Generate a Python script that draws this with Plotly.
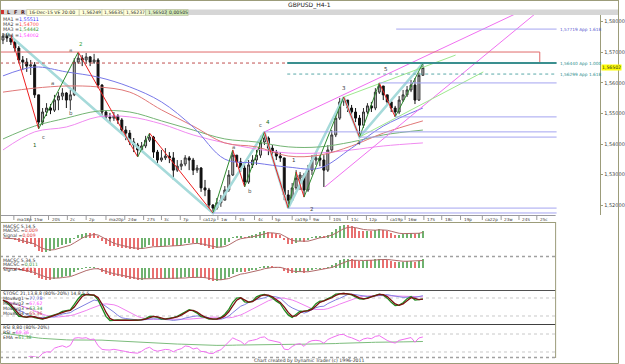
import numpy as np
import pandas as pd
import plotly.graph_objects as go

W, H = 625, 364

# ---------------- price data (H4 bars) ----------------
first_open = 1.5740
closes = [1.5753, 1.5747, 1.5734, 1.5714, 1.5675, 1.5668, 1.5655, 1.5659, 1.5561, 1.5472,
          1.5505, 1.5518, 1.5511, 1.5544, 1.5557, 1.5567, 1.5544, 1.5561, 1.5668, 1.5681,
          1.5675, 1.5685, 1.5668, 1.5675, 1.5593, 1.5505, 1.5489, 1.5485, 1.5492, 1.5479,
          1.5446, 1.5436, 1.5407, 1.5397, 1.5381, 1.5394, 1.5413, 1.5423, 1.5374, 1.5348,
          1.5355, 1.5361, 1.5355, 1.5315, 1.5328, 1.5335, 1.5355, 1.5348, 1.5315, 1.5322,
          1.5257, 1.5250, 1.5201, 1.5191, 1.5208, 1.5217, 1.5250, 1.5299, 1.5364, 1.5342,
          1.5322, 1.5276, 1.5332, 1.5348, 1.5364, 1.5407, 1.5420, 1.5387, 1.5374, 1.5361,
          1.5355, 1.5234, 1.5217, 1.5257, 1.5289, 1.5299, 1.5250, 1.5315, 1.5348, 1.5355,
          1.5348, 1.5315, 1.5381, 1.5430, 1.5485, 1.5538, 1.5544, 1.5518, 1.5505, 1.5485,
          1.5462, 1.5505, 1.5525, 1.5518, 1.5570, 1.5590, 1.5561, 1.5538, 1.5518, 1.5505,
          1.5544, 1.5561, 1.5577, 1.5593, 1.5544, 1.5625, 1.56502]
highs = [1.5763, 1.5763, 1.5757, 1.5740, 1.5721, 1.5688, 1.5681, 1.5675, 1.5668, 1.5561,
         1.5518, 1.5534, 1.5531, 1.5561, 1.5570, 1.5583, 1.5570, 1.5577, 1.5681, 1.5701,
         1.5691, 1.5698, 1.5688, 1.5695, 1.5681, 1.5596, 1.5511, 1.5502, 1.5505, 1.5498,
         1.5485, 1.5459, 1.5446, 1.5420, 1.5404, 1.5407, 1.5427, 1.5436, 1.5427, 1.5381,
         1.5381, 1.5387, 1.5374, 1.5374, 1.5348, 1.5348, 1.5364, 1.5361, 1.5355, 1.5332,
         1.5325, 1.5283, 1.5257, 1.5204, 1.5224, 1.5234, 1.5263, 1.5315, 1.5381, 1.5364,
         1.5355, 1.5332, 1.5348, 1.5364, 1.5381, 1.5427, 1.5440, 1.5425, 1.5397, 1.5381,
         1.5374, 1.5355, 1.5250, 1.5273, 1.5315, 1.5309, 1.5305, 1.5332, 1.5364, 1.5374,
         1.5364, 1.5364, 1.5397, 1.5446, 1.5505, 1.5551, 1.5554, 1.5544, 1.5528, 1.5518,
         1.5495, 1.5518, 1.5534, 1.5538, 1.5583, 1.5600, 1.5590, 1.5561, 1.5544, 1.5525,
         1.5557, 1.5577, 1.5590, 1.5610, 1.5616, 1.5634, 1.56635]
lows = [1.5727, 1.5734, 1.5724, 1.5701, 1.5665, 1.5642, 1.5636, 1.5626, 1.5551, 1.5450,
        1.5462, 1.5492, 1.5498, 1.5505, 1.5511, 1.5544, 1.5518, 1.5511, 1.5557, 1.5662,
        1.5655, 1.5662, 1.5655, 1.5662, 1.5583, 1.5495, 1.5479, 1.5472, 1.5476, 1.5466,
        1.5436, 1.5413, 1.5397, 1.5374, 1.5358, 1.5381, 1.5387, 1.5407, 1.5355, 1.5338,
        1.5342, 1.5348, 1.5338, 1.5283, 1.5309, 1.5315, 1.5328, 1.5315, 1.5299, 1.5306,
        1.5244, 1.5230, 1.5185, 1.5175, 1.5185, 1.5195, 1.5217, 1.5244, 1.5296, 1.5325,
        1.5309, 1.5260, 1.5270, 1.5322, 1.5332, 1.5355, 1.5397, 1.5364, 1.5355, 1.5348,
        1.5342, 1.5217, 1.5191, 1.5217, 1.5250, 1.5250, 1.5227, 1.5244, 1.5299, 1.5332,
        1.5328, 1.5260, 1.5309, 1.5374, 1.5423, 1.5479, 1.5525, 1.5505, 1.5489, 1.5472,
        1.5423, 1.5453, 1.5498, 1.5505, 1.5511, 1.5564, 1.5544, 1.5525, 1.5505, 1.5489,
        1.5498, 1.5538, 1.5554, 1.5570, 1.5531, 1.5541, 1.56237]
opens = [first_open] + closes[:-1]
idx = list(range(len(closes)))

# moving averages read at sample bars
ma_idx = [0, 8, 16, 24, 32, 40, 48, 56, 64, 72, 80, 88, 96, 106]
ma1 = [1.5623, 1.5652, 1.5636, 1.5619, 1.5587, 1.5538, 1.5456, 1.5351, 1.5338, 1.5325, 1.5322, 1.5387, 1.5459, 1.5518]
ma2 = [1.5570, 1.5583, 1.5590, 1.5587, 1.5570, 1.5512, 1.5459, 1.5404, 1.5391, 1.5361, 1.5364, 1.5394, 1.5436, 1.5476]
ma3 = [1.5417, 1.5459, 1.5485, 1.5508, 1.5505, 1.5476, 1.5446, 1.5417, 1.5407, 1.5391, 1.5391, 1.5407, 1.5430, 1.5446]
ma4 = [1.5381, 1.5440, 1.5456, 1.5489, 1.5489, 1.5466, 1.5430, 1.5404, 1.5384, 1.5371, 1.5371, 1.5381, 1.5394, 1.5404]
ma_legend = ["1,55511", "1,54700", "1,54442", "1,54002"]

# zigzags
minor_zz_idx = [2, 9, 19, 34, 37, 53, 58, 61, 66, 72, 74, 76, 86, 90, 95, 99, 106]
minor_zz_px = [1.5757, 1.5450, 1.5701, 1.5358, 1.5436, 1.5175, 1.5381, 1.5260, 1.5440, 1.5191,
               1.5309, 1.5227, 1.5554, 1.5423, 1.5600, 1.5489, 1.5664]
major_zz_idx = [1, 53, 66, 72, 86, 90, 106]
major_zz_px = [1.5763, 1.5175, 1.5440, 1.5191, 1.5554, 1.5423, 1.5664]

# trend lines (start idx, start price, end idx, end price)
pink_lines = [(66, 1.5440, 129.25, 1.5825), (81.25, 1.5260, 134.25, 1.5825)]
lgreen_lines = [(86, 1.5554, 114.25, 1.5691), (90, 1.5423, 121.25, 1.5636)]

# horizontal levels (price, start idx)
purple_levels = [(1.5776, 99.25), (1.5600, 95), (1.5489, 99), (1.5440, 66), (1.5423, 90),
                 (1.5191, 72), (1.5175, 53)]
box_top, box_bottom = 1.5701, 1.5665
teal_dotted = 1.5629
level_end = 139.75
level_labels = [("1,57719 App 1.618", 1.5776, "#5a5ad0"), ("1,56440 App 1.000", 1.5665, "#2f8f8f"),
                ("1,56299 App 1.618", 1.5629, "#2f8f8f")]

wave_labels = [("1", 8.0, 1.5397, "#206020"), ("c", 10.25, 1.5423, "#606060"), ("a", 12.5, 1.5600, "#606060"),
               ("b", 17.25, 1.5502, "#606060"), ("a", 17.0, 1.5708, "#808080"), ("2", 19.75, 1.5727, "#30a030"),
               ("a", 58.25, 1.5392, "#606060"), ("b", 62.25, 1.5247, "#606060"), ("c", 65.0, 1.5463, "#606060"),
               ("4", 66.8, 1.5473, "#207020"), ("1", 73.5, 1.5348, "#404040"), ("2", 78.0, 1.5188, "#404040"),
               ("3", 86.0, 1.5583, "#303030"), ("4", 89.75, 1.5404, "#303030"), ("5", 96.75, 1.5646, "#303030")]

price_ticks = [1.52, 1.53, 1.54, 1.55, 1.56, 1.57, 1.58]
price_tick_text = ["1,52000", "1,53000", "1,54000", "1,55000", "1,56000", "1,57000", "1,58000"]
last_price_text = "1,56502"

date_pos = [2.75, 7.0, 11.5, 16.25, 21.0, 26.0, 30.75, 35.5, 40.0, 44.75, 49.75, 54.25, 58.75, 63.5,
            68.0, 73.0, 77.5, 82.5, 87.0, 91.75, 97.0, 101.5, 106.25, 110.75, 115.5, 121.0, 125.75,
            130.25, 134.75]
date_text = ["ma18p", "15w", "20S", "2c", "2p", "ma20p", "24w", "27S", "3c", "7p", "ca12p", "1w", "3S", "4c",
             "5p", "ca19p", "9w", "10S", "11c", "12p", "ca19p", "16w", "17S", "18c", "19p", "ca22p", "23w",
             "24S", "25c"]

header_fields = ["16-Dec-15 VE 20:00", "1,56249", "1,56635", "1,56237", "1,56502", "0,00505"]

# ---------------- indicators (computed from closes) ----------------
c = pd.Series(closes)
hi = pd.Series(highs)
lo = pd.Series(lows)


def ema(s, n):
    return s.ewm(span=n, adjust=False).mean()


macd1 = ema(c, 5) - ema(c, 14)
sig1 = ema(macd1, 5)
macd2 = ema(c, 5) - ema(c, 34)
sig2 = ema(macd2, 5)


def stoch(n):
    hh = hi.rolling(n, min_periods=1).max()
    ll = lo.rolling(n, min_periods=1).min()
    return 100 * (c - ll) / (hh - ll)


st_green = stoch(13).rolling(3, min_periods=1).mean()
st_red = st_green.rolling(2, min_periods=1).mean()
st_blue = stoch(21).rolling(6, min_periods=1).mean()
st_pink = st_blue.rolling(8, min_periods=1).mean()

d = c.diff().fillna(0)
ag = d.clip(lower=0).ewm(alpha=1 / 8, adjust=False).mean()
al = (-d.clip(upper=0)).ewm(alpha=1 / 8, adjust=False).mean()
rsi = 100 - 100 / (1 + ag / al.replace(0, np.nan))
rsi_ema_start = 83.0
alpha = 2 / 81
rsi_ema = []
prev = rsi_ema_start
for v in rsi:
    if not np.isnan(v):
        prev = prev + alpha * (v - prev)
    rsi_ema.append(prev)

# ---------------- figure ----------------
OLIVE = "#9c9c7a"
FONT = "DejaVu Sans"


def pyd(y0, y1):
    return [1 - y1 / H, 1 - y0 / H]


fig = go.Figure()

# major zigzag (thick cyan)
fig.add_trace(go.Scatter(x=major_zz_idx, y=major_zz_px, mode="lines",
                         line=dict(color="#a6dada", width=2.5), hoverinfo="skip"))

# moving averages
for vals, col in [(ma4, "#f08af0"), (ma3, "#74b474"), (ma2, "#e07878"), (ma1, "#7878e8")]:
    fig.add_trace(go.Scatter(x=ma_idx, y=vals, mode="lines",
                             line=dict(color=col, width=1, shape="spline", smoothing=1.0), hoverinfo="skip"))

# trend lines
for (x0, y0, x1, y1) in pink_lines:
    fig.add_trace(go.Scatter(x=[x0, x1], y=[y0, y1], mode="lines", line=dict(color="#f070f0", width=1),
                             hoverinfo="skip"))
for (x0, y0, x1, y1) in lgreen_lines:
    fig.add_trace(go.Scatter(x=[x0, x1], y=[y0, y1], mode="lines", line=dict(color="#9ee88e", width=1),
                             hoverinfo="skip"))

# candles
fig.add_trace(go.Candlestick(x=idx, open=opens, high=highs, low=lows, close=closes,
                             increasing=dict(fillcolor="#c4c4c4", line=dict(color="#303030", width=1)),
                             decreasing=dict(fillcolor="#111111", line=dict(color="#111111", width=1)),
                             whiskerwidth=0, hoverinfo="skip", xaxis="x", yaxis="y"))

# minor zigzag
for k in range(len(minor_zz_idx) - 1):
    up = minor_zz_px[k + 1] > minor_zz_px[k]
    fig.add_trace(go.Scatter(x=minor_zz_idx[k:k + 2], y=minor_zz_px[k:k + 2], mode="lines",
                             line=dict(color="#2e8b2e" if up else "#ee2020", width=1), hoverinfo="skip"))

# MACD panels
for (m, s, xa, ya) in [(macd1, sig1, "x2", "y2"), (macd2, sig2, "x3", "y3")]:
    cols = ["#6fb26f" if (k > 0 and m[k] >= m[k - 1]) else "#e87070" for k in range(len(m))]
    fig.add_trace(go.Bar(x=idx, y=m, width=0.3, marker=dict(color=cols, line=dict(width=0)),
                         xaxis=xa, yaxis=ya, hoverinfo="skip"))
    fig.add_trace(go.Scatter(x=idx, y=s, mode="lines", line=dict(color="#b06a6a", width=1),
                             xaxis=xa, yaxis=ya, hoverinfo="skip"))

# stochastics
for ser, col, wd in [(st_pink, "#f080f0", 1), (st_blue, "#8080e0", 1), (st_green, "#1e8a1e", 1.3),
                     (st_red, "#7a1010", 1.3)]:
    fig.add_trace(go.Scatter(x=idx, y=ser, mode="lines", line=dict(color=col, width=wd),
                             xaxis="x4", yaxis="y4", hoverinfo="skip"))

# RSI
fig.add_trace(go.Scatter(x=idx, y=rsi_ema, mode="lines", line=dict(color="#7cbc7c", width=1),
                         xaxis="x5", yaxis="y5", hoverinfo="skip"))
fig.add_trace(go.Scatter(x=idx, y=rsi, mode="lines", line=dict(color="#f070f0", width=1),
                         xaxis="x5", yaxis="y5", hoverinfo="skip"))


def sym_range(vals, zero_px, top_px, bot_px):
    vmax = max(max(v) for v in vals)
    vmin = min(min(v) for v in vals)
    s = max(vmax / (zero_px - top_px - 1.5), -vmin / (bot_px - zero_px - 1.5))
    return [-s * (bot_px - zero_px), s * (zero_px - top_px)]


r1 = sym_range([macd1, sig1], 238, 223, 256)
r2 = sym_range([macd2, sig2], 268, 257, 290)

hidden = dict(visible=False, fixedrange=True)
fig.update_layout(
    width=W, height=H, margin=dict(l=0, r=0, t=0, b=0), autosize=False,
    paper_bgcolor="white", plot_bgcolor="white", showlegend=False, bargap=0,
    font=dict(family=FONT, size=5, color="#303030"),
    xaxis=dict(domain=[0, 606 / W], range=[-0.75, 150.75], rangeslider=dict(visible=False), **hidden),
    yaxis=dict(domain=pyd(15, 215), range=[1.51684, 1.58220], side="right", showgrid=False, zeroline=False,
               showline=True, linecolor=OLIVE, linewidth=1, ticks="outside", ticklen=2, tickcolor=OLIVE,
               tickvals=price_ticks, ticktext=price_tick_text, tickfont=dict(size=5, color="#404040"),
               fixedrange=True),
    xaxis2=dict(domain=[0, 561 / W], range=[-0.75, 139.5], anchor="y2", **hidden),
    yaxis2=dict(domain=pyd(223, 256), range=r1, anchor="x2", **hidden),
    xaxis3=dict(domain=[0, 561 / W], range=[-0.75, 139.5], anchor="y3", **hidden),
    yaxis3=dict(domain=pyd(257, 290), range=r2, anchor="x3", **hidden),
    xaxis4=dict(domain=[0, 561 / W], range=[-0.75, 139.5], anchor="y4", **hidden),
    yaxis4=dict(domain=pyd(291, 324), range=[-6.7, 103.3], anchor="x4", **hidden),
    xaxis5=dict(domain=[0, 561 / W], range=[-0.75, 139.5], anchor="y5", **hidden),
    yaxis5=dict(domain=pyd(325, 357), range=[3.3, 110], anchor="x5", **hidden),
)

shapes = []
ann = []


def pline(x0, y0, x1, y1, color, width=1, dash="solid"):
    shapes.append(dict(type="line", xref="paper", yref="paper", x0=x0 / W, x1=x1 / W,
                       y0=1 - y0 / H, y1=1 - y1 / H, line=dict(color=color, width=width, dash=dash)))


def prect(x0, y0, x1, y1, fill, line=None, width=1):
    shapes.append(dict(type="rect", xref="paper", yref="paper", x0=x0 / W, x1=x1 / W,
                       y0=1 - y1 / H, y1=1 - y0 / H, fillcolor=fill,
                       line=dict(color=line or fill, width=width if line else 0), layer="below"))


def ptext(x, y, text, size=5, color="#303030", anchor="left", bg=None):
    ann.append(dict(xref="paper", yref="paper", x=x / W, y=1 - y / H, text=text, showarrow=False,
                    xanchor=anchor, yanchor="middle", font=dict(size=size, color=color, family=FONT),
                    bgcolor=bg, borderpad=0))


# header
prect(0, 9.5, W, 15, "#d6d6d6")
prect(0.5, 10, 4, 14, "#d03030")
ptext(6, 12.3, "<b>L</b>", 5, "#502020")
ptext(13, 12.3, "<b>F</b>", 5, "#502020")
ptext(20, 12.3, "<b>R</b>", 5, "#502020")
field_x = [27, 80, 103, 125, 147, 168, 190]
field_bg = ["#ffffdc", "#ffffdc", "#ffffdc", "#ffffdc", "#dff0c8", "#cfe8b4"]
for k, t in enumerate(header_fields):
    prect(field_x[k], 9.5, field_x[k + 1], 15.5, field_bg[k], "#b0b090", 0.5)
    ptext(field_x[k] + 1.5, 12.5, t, 4.6, "#303030")
ptext(312, 4.8, "GBPUSD_H4-1", 6, "#202020", "center")

# main panel horizontal levels
shapes.append(dict(type="line", xref="x", yref="y", x0=-0.75, x1=135.5, y0=box_top, y1=box_top,
                   line=dict(color="#e06a6a", width=1)))
shapes.append(dict(type="line", xref="x", yref="y", x0=135.5, x1=135.5, y0=box_bottom, y1=box_top,
                   line=dict(color="#e06a6a", width=1)))
shapes.append(dict(type="line", xref="x", yref="y", x0=-0.75, x1=71.75, y0=box_bottom, y1=box_bottom,
                   line=dict(color="#c05050", width=1, dash="dot")))
shapes.append(dict(type="line", xref="x", yref="y", x0=71.75, x1=level_end, y0=box_bottom, y1=box_bottom,
                   line=dict(color="#3a8f8f", width=2)))
shapes.append(dict(type="line", xref="x", yref="y", x0=71.75, x1=level_end, y0=teal_dotted, y1=teal_dotted,
                   line=dict(color="#5aa8a8", width=1, dash="dot")))
for (p, x0) in purple_levels:
    shapes.append(dict(type="line", xref="x", yref="y", x0=x0, x1=level_end, y0=p, y1=p,
                       line=dict(color="#a4a4f0", width=1)))
for (t, p, col) in level_labels:
    ann.append(dict(xref="x", yref="y", x=level_end + 0.3, y=p, text=t, showarrow=False, xanchor="left",
                    yanchor="middle", font=dict(size=4.3, color=col, family=FONT)))
ann.append(dict(xref="paper", yref="y", x=607 / W, y=closes[-1], text=last_price_text, showarrow=False,
                xanchor="left", yanchor="middle", bgcolor="#ffff00", borderpad=0,
                font=dict(size=4.6, color="#303030", family=FONT)))

for (t, xi, p, col) in wave_labels:
    ann.append(dict(xref="x", yref="y", x=xi, y=p, text=t, showarrow=False, xanchor="center",
                    yanchor="middle", font=dict(size=5.5, color=col, family=FONT)))

# MA legend
ma_cols = ["#3535ff", "#ff4545", "#3a9a3a", "#ff45ff"]
for k in range(4):
    ptext(2, 19 + 5.4 * k, "MA%d =<span style='color:%s'>%s</span>" % (k + 1, ma_cols[k], ma_legend[k]),
          4.8, "#404040")

# date axis
pline(0, 215.5, 561, 215.5, "#9a9aa0", 1)
for pos, t in zip(date_pos, date_text):
    shapes.append(dict(type="line", xref="x2", yref="paper", x0=pos, x1=pos, y0=1 - 216 / H, y1=1 - 220 / H,
                       line=dict(color="#707070", width=0.7)))
    ann.append(dict(xref="x2", yref="paper", x=pos, y=1 - 219.5 / H, text=t, showarrow=False, xanchor="left",
                    xshift=1, yanchor="middle", font=dict(size=4.2, color="#404040", family=FONT)))

# indicator panel frames
pline(0, 222.5, 561, 222.5, OLIVE, 1)
pline(0, 256.5, 561, 256.5, "#a0a0a0", 1.5, "dot")
pline(0, 290.5, 561, 290.5, "#505050", 1)
pline(0, 324.5, 561, 324.5, "#404040", 1)
pline(0, 357.5, 561, 357.5, "#a0a0a0", 1.5, "dot")
pline(561, 222, 561, 358, OLIVE, 1)

# reference lines
for yv in (80, 20):
    shapes.append(dict(type="line", xref="x4", yref="y4", x0=-0.75, x1=139.5, y0=yv, y1=yv,
                       line=dict(color="#c8c8c8", width=1, dash="dot"), layer="below"))
for yv in (80, 20):
    shapes.append(dict(type="line", xref="x5", yref="y5", x0=-0.75, x1=139.5, y0=yv, y1=yv,
                       line=dict(color="#c8c8c8", width=1, dash="dot"), layer="below"))

# indicator texts
ptext(2, 226, "MACSC 5,14,5", 4.6)
ptext(2, 230.5, "MACSC =<span style='color:#e04040'>0,009</span>", 4.6)
ptext(2, 235, "Signal =<span style='color:#e04040'>0,009</span>", 4.6)
ptext(2, 260, "MACSC 5,34,5", 4.6)
ptext(2, 264.5, "MACSC =<span style='color:#3a9a3a'>0,011</span>", 4.6)
ptext(2, 269, "Signal =<span style='color:#e04040'>0,011</span>", 4.6)
ptext(2, 293.5, "STOSC 21,13,8,8 (80%-20%) 14,8,5,5", 4.6)
ptext(2, 298.5, "MovAvg1 =<span style='color:#4545d0'>77,78</span>", 4.6)
ptext(2, 303.5, "MovAvg2 =<span style='color:#ff45ff'>67,62</span>", 4.6)
ptext(2, 308.5, "MovAvg3 =<span style='color:#2a8a2a'>63,34</span>", 4.6)
ptext(2, 313.5, "MovAvg4 =<span style='color:#c03030'>65,36</span>", 4.6)
ptext(2, 327.5, "RSI 8,80 (80%-20%)", 4.6)
ptext(2, 332.5, "RSI =<span style='color:#ff45ff'>69,36</span>", 4.6)
ptext(2, 337.5, "EMA =<span style='color:#3a9a3a'>61,38</span>", 4.6)

# footer and outer frame
ptext(312, 360.8, "Chart created by Dynamic Trader (c) 1996-2011", 4.6, "#303030", "center")
shapes.append(dict(type="rect", xref="paper", yref="paper", x0=0.5 / W, x1=1 - 0.5 / W, y0=0.5 / H,
                   y1=1 - 0.5 / H, line=dict(color=OLIVE, width=1)))
pline(0, 0.5, W, 0.5, OLIVE, 1)

fig.update_layout(shapes=shapes, annotations=ann)
fig.write_html("out.html")
